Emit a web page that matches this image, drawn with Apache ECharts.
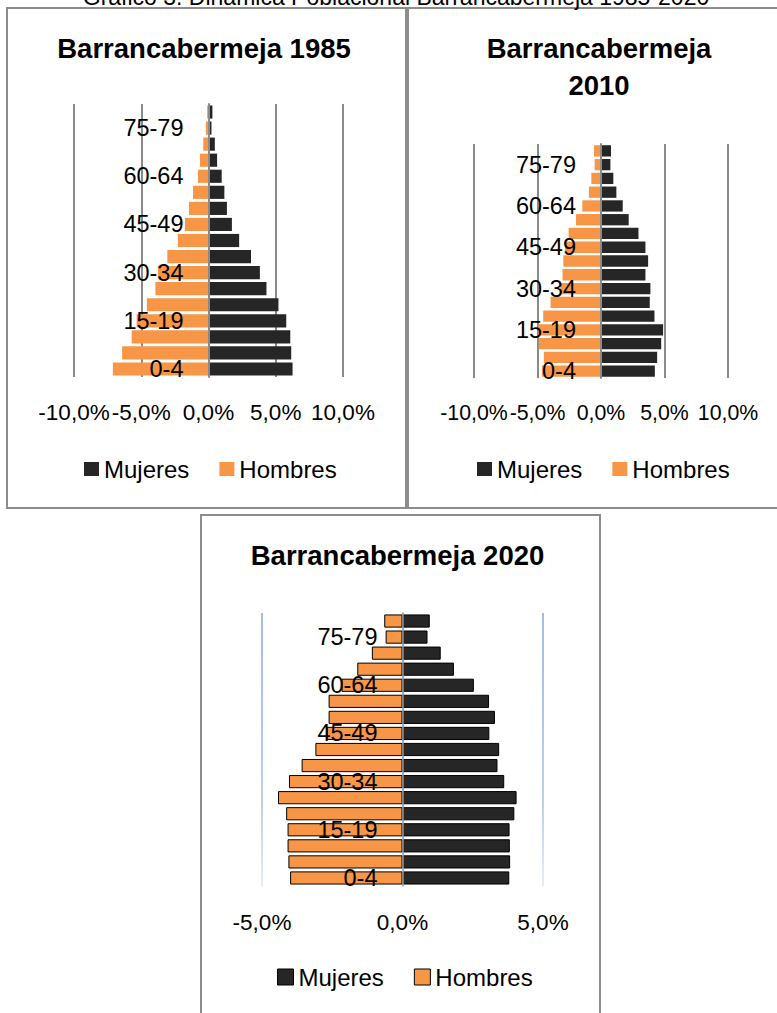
<!DOCTYPE html>
<html>
<head>
<meta charset="utf-8">
<script src="https://cdn.jsdelivr.net/npm/echarts@6/dist/echarts.min.js"></script>
<style>
html,body{margin:0;padding:0;background:#ffffff;}
#c{width:777px;height:1013px;}
</style>
</head>
<body>
<div id="c"></div>
<script>
// ---------- DATA (percent of total population) ----------
const categories = ['0-4','5-9','10-14','15-19','20-24','25-29','30-34','35-39','40-44','45-49','50-54','55-59','60-64','65-69','70-74','75-79','80+'];

const mujeres1985 = [6.25, 6.15, 6.08, 5.78, 5.20, 4.31, 3.82, 3.16, 2.28, 1.74, 1.37, 1.18, 0.98, 0.64, 0.47, 0.22, 0.29];
const hombres1985 = [-7.11, -6.42, -5.71, -5.34, -4.58, -3.95, -3.77, -3.06, -2.28, -1.76, -1.45, -1.15, -0.78, -0.64, -0.39, -0.20, -0.10];

const mujeres2010 = [4.24, 4.42, 4.74, 4.89, 4.21, 3.84, 3.89, 3.50, 3.71, 3.50, 2.95, 2.18, 1.71, 1.21, 0.97, 0.74, 0.79];
const hombres2010 = [-4.65, -4.50, -4.90, -4.95, -4.55, -3.97, -3.20, -3.03, -2.97, -2.84, -2.55, -1.97, -1.47, -0.95, -0.76, -0.50, -0.55];

const mujeres2020 = [3.80, 3.83, 3.82, 3.81, 3.98, 4.06, 3.62, 3.38, 3.44, 3.09, 3.29, 3.08, 2.54, 1.83, 1.36, 0.89, 0.97];
const hombres2020 = [-4.00, -4.06, -4.09, -4.09, -4.14, -4.43, -4.04, -3.59, -3.10, -2.70, -2.63, -2.63, -2.17, -1.61, -1.09, -0.60, -0.65];

const ticks1985 = [-10, -5, 0, 5, 10];
const ticks2010 = [-10, -5, 0, 5, 10];
const ticks2020 = [-5, 0, 5];

const seriesNames = ['Mujeres', 'Hombres'];
const chartTitles = ['Barrancabermeja 1985', 'Barrancabermeja', '2010', 'Barrancabermeja 2020'];
const caption = 'Gráfico 3. Dinámica Poblacional Barrancabermeja 1985-2020';

// ---------- STYLE ----------
const FONT = '"Liberation Sans", Arial, sans-serif';
const C_MUJ = '#262626';
const C_HOM = '#F79646';
const GRID_GRAY = '#8a8a8a';

const chart = echarts.init(document.getElementById('c'), null, {renderer: 'svg'});

function fmt(v) { return v.toFixed(1).replace('.', ',') + '%'; }

const grids = [
  {left: 74,  top: 104, width: 269, height: 273},
  {left: 474, top: 144, width: 254, height: 234},
  {left: 262, top: 613, width: 281, height: 273}
];
const tickSets = [ticks1985, ticks2010, ticks2020];
const dataSets = [[mujeres1985, hombres1985], [mujeres2010, hombres2010], [mujeres2020, hombres2020]];

const blueGrad = new echarts.graphic.LinearGradient(0, 613, 0, 886, [
  {offset: 0, color: '#a3bde6'},
  {offset: 0.7, color: '#bccfee'},
  {offset: 1, color: '#e6edf8'}
], true);

const xAxes = tickSets.map((t, i) => ({
  type: 'value',
  gridIndex: i,
  min: t[0],
  max: t[t.length - 1],
  interval: t[1] - t[0],
  axisLine: {show: false},
  axisTick: {show: false},
  splitLine: {show: true, lineStyle: {color: i === 2 ? blueGrad : GRID_GRAY, width: 2}},
  axisLabel: {
    formatter: fmt, margin: i === 2 ? 25 : 24, fontSize: i === 1 ? 21.3 : 22.5, color: '#000', fontFamily: FONT,
    showMinLabel: true, showMaxLabel: true, hideOverlap: false
  }
}));

// y axis placed on the zero of the symmetric value axis (centre of the grid)
const yAxes = [0, 1, 2].map(i => {
  const t = tickSets[i];
  const zeroFrac = (0 - t[0]) / (t[t.length - 1] - t[0]);
  return {
    type: 'category',
    gridIndex: i,
    data: categories,
    z: 5,
    position: 'left',
    offset: -grids[i].width * zeroFrac,
    axisLine: {show: true, onZero: false, lineStyle: {color: i === 2 ? '#9a9a9a' : GRID_GRAY, width: i === 2 ? 1.5 : 2}},
    axisTick: {show: false},
    splitLine: {show: false},
    axisLabel: {interval: 2, margin: 25, fontSize: 23.5, color: '#000', fontFamily: FONT}
  };
});

const series = [];
dataSets.forEach((d, i) => {
  const border = i === 2 ? {borderColor: '#000', borderWidth: 1} : {borderWidth: 0};
  series.push({
    name: seriesNames[0], type: 'bar', xAxisIndex: i, yAxisIndex: i, data: d[0],
    barGap: '-100%', barCategoryGap: '18%', silent: true,
    itemStyle: Object.assign({color: C_MUJ}, border)
  });
  series.push({
    name: seriesNames[1], type: 'bar', xAxisIndex: i, yAxisIndex: i, data: d[1],
    barGap: '-100%', barCategoryGap: '18%', silent: true,
    itemStyle: Object.assign({color: C_HOM}, border)
  });
});

function legend(left, top, size, bordered) {
  return {
    left: left, top: top, padding: 0, orient: 'horizontal',
    data: seriesNames, icon: 'rect', selectedMode: false,
    itemWidth: size[0], itemHeight: size[1], itemGap: 30,
    itemStyle: bordered ? {borderColor: '#000', borderWidth: 1} : {borderWidth: 0},
    textStyle: {fontSize: 24, color: '#000', fontFamily: FONT}
  };
}

function txt(x, y, text, size, weight) {
  return {
    type: 'text', x: x, y: y, silent: true,
    style: {text: text, align: 'center', verticalAlign: 'middle', fontSize: size,
            fontWeight: weight, fontFamily: FONT, fill: '#000'}
  };
}
function frame(x, y, w, h) {
  return {
    type: 'rect', silent: true, z: -10,
    shape: {x: x, y: y, width: w, height: h},
    style: {fill: 'none', stroke: '#8c8c8c', lineWidth: 2}
  };
}

chart.setOption({
  animation: false,
  backgroundColor: '#ffffff',
  grid: grids.map(g => Object.assign({containLabel: false, outerBoundsMode: 'none'}, g)),
  xAxis: xAxes,
  yAxis: yAxes,
  series: series,
  legend: [
    legend(84, 457, [15, 14], false),
    legend(477, 457, [15, 14], false),
    legend(277, 965, [16, 16], true)
  ],
  graphic: [
    frame(7, 8, 399, 500),
    frame(408, 8, 400, 500),
    frame(201, 515, 399, 520),
    txt(396, -3, caption, 23, 'normal'),
    txt(204, 48, chartTitles[0], 27.5, 'bold'),
    txt(599, 48.5, chartTitles[1], 27.5, 'bold'),
    txt(599, 85.5, chartTitles[2], 27.5, 'bold'),
    txt(397.5, 555.5, chartTitles[3], 27.5, 'bold')
  ]
});
</script>
</body>
</html>
